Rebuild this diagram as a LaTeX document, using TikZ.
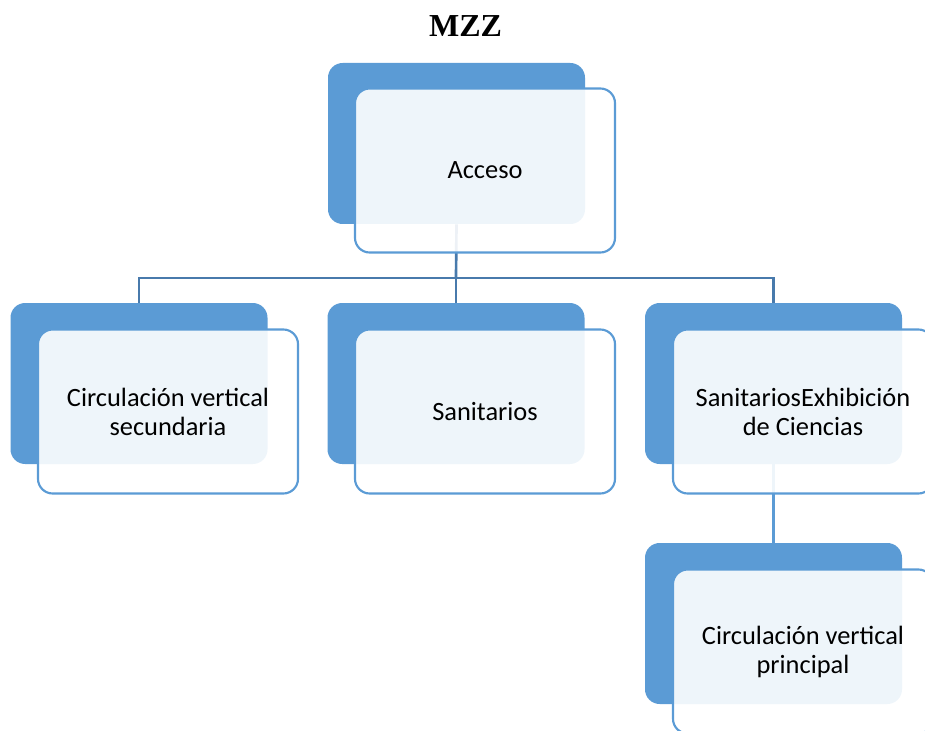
\documentclass[tikz,border=0pt]{standalone}
\usepackage{fontspec}
\setmainfont{Carlito}
\newfontfamily\titlefont{Liberation Serif}
\usepackage{tikz}
\usetikzlibrary{positioning}
\definecolor{boxblue}{RGB}{91,155,213}
\definecolor{linkdark}{RGB}{72,122,172}
\colorlet{linklight}{boxblue}

\tikzset{
    backbox/.style={fill=boxblue, draw=none, rounded corners=11pt,
        minimum width=192.75pt, minimum height=120.75pt, inner sep=0pt},
    frontbox/.style={draw=boxblue, line width=1.6pt, fill=white, fill opacity=0.9,
        text opacity=1, rounded corners=11pt, minimum width=195pt,
        minimum height=123pt, inner sep=0pt, align=center,
        font=\fontsize{19.8}{21.75}\selectfont},
    link/.style={linkdark, line width=2pt},
    linklow/.style={linklight, line width=2pt}
}

\begin{document}
\begin{tikzpicture}[x=0.75pt, y=-0.75pt]
        \useasboundingbox (0,0) rectangle (925,731);
        \node[font=\titlefont\fontsize{24}{28}\selectfont\bfseries] (title) at (465.5,26) {MZZ};
        % back boxes
        \foreach \nm/\x/\y in {acc/456.5/143.5, circ/139/383.5, san/456/383.5,
                exh/773.5/383.5, prin/773.5/623.5}{
            \node[backbox] (\nm-back) at (\x,\y) {};
        }
        % connectors
        \coordinate (bar) at (456,278);
        \draw[link] (acc-back.south) -- (bar);
        \draw[link] (circ-back.north) |- (bar) -| (exh-back.north);
        \draw[link] (bar) -- (san-back.north);
        \draw[linklow] (exh-back.south) -- (prin-back.north);
        % front boxes
        \node[frontbox] (acc) at ([shift={(28.5,27)}]acc-back) {Acceso};
        \node[frontbox] (circ) at ([shift={(29,28)}]circ-back) {Circulación vertical\\secundaria};
        \node[frontbox] (san) at ([shift={(29,28)}]san-back) {Sanitarios};
        \node[frontbox] (exh) at ([shift={(29.5,28)}]exh-back) {SanitariosExhibición\\de Ciencias};
        \node[frontbox] (prin) at ([shift={(29.5,28)}]prin-back) {Circulación vertical\\principal};
\end{tikzpicture}
\end{document}
